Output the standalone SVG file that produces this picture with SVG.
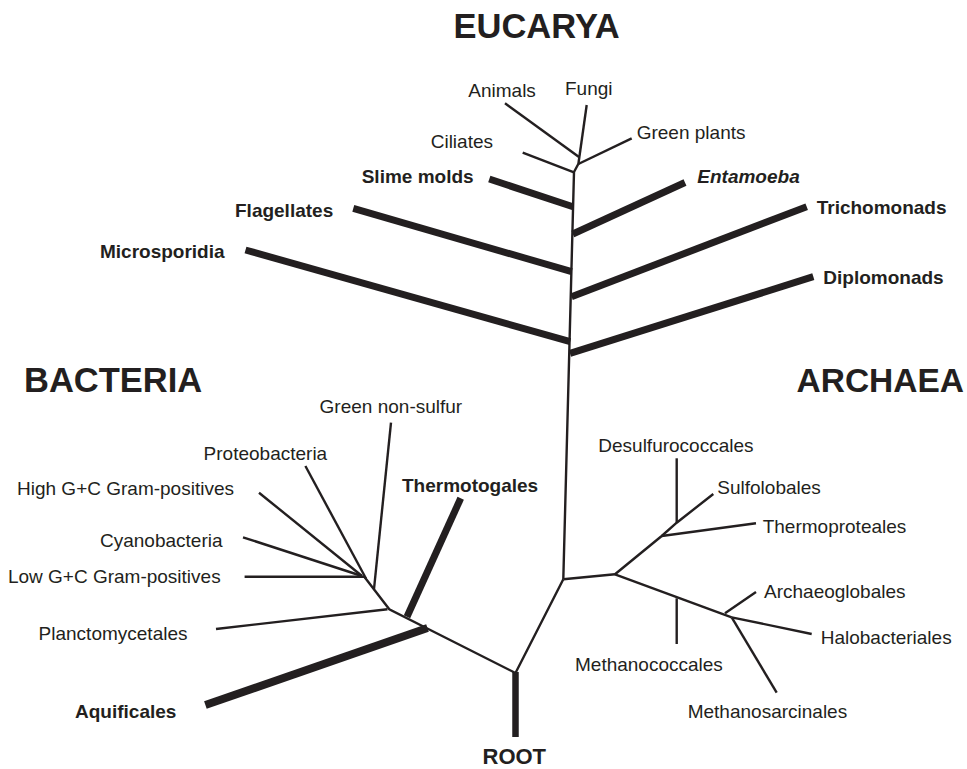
<svg xmlns="http://www.w3.org/2000/svg" width="967" height="769" viewBox="0 0 967 769">
<style>
text{font-family:"Liberation Sans",Arial,Helvetica,sans-serif;fill:#231f20;font-size:19px}
.b{font-weight:bold}
.i{font-style:italic}
.t{font-weight:bold;font-size:34.5px}
.r{font-weight:bold;font-size:22px}
.thin{stroke:#231f20;stroke-width:2.4;fill:none;stroke-linecap:butt;stroke-linejoin:miter}
.thick{stroke:#231f20;stroke-width:7;fill:none;stroke-linecap:butt}
</style>
<rect width="967" height="769" fill="#fff"/>
<g id="connectors">
  <polyline class="thin" points="563.3,579.3 574,172 578.3,164"/>
  <line class="thin" x1="586.7" y1="105" x2="578.3" y2="164.5"/>
  <line class="thin" x1="505" y1="103.3" x2="579" y2="157"/>
  <line class="thin" x1="631.7" y1="138.3" x2="578.3" y2="164"/>
  <line class="thin" x1="522.7" y1="152.7" x2="574" y2="172.3"/>
  <line class="thick" x1="489.3" y1="179" x2="573" y2="206.7"/>
  <line class="thick" x1="685" y1="182.5" x2="572.8" y2="234"/>
  <line class="thick" x1="353.3" y1="208.3" x2="571.7" y2="271.7"/>
  <line class="thick" x1="806.7" y1="206.7" x2="571.5" y2="296.7"/>
  <line class="thick" x1="245.5" y1="250" x2="570.2" y2="341.7"/>
  <line class="thick" x1="813.3" y1="276.7" x2="570" y2="353.3"/>
  <line class="thick" x1="515.5" y1="672" x2="515.5" y2="737" style="stroke-width:6.5"/>
  <polyline class="thin" points="563.3,579.3 515.5,673 426.8,628.3 389.3,609.3 364.3,576.7"/>
  <line class="thick" x1="205.4" y1="705" x2="427.5" y2="628" style="stroke-width:8"/>
  <line class="thick" x1="460.7" y1="498.3" x2="407" y2="616.7"/>
  <line class="thin" x1="216" y1="629" x2="387.5" y2="609.3"/>
  <line class="thin" x1="391" y1="422.7" x2="374" y2="589"/>
  <line class="thin" x1="305.4" y1="466" x2="366" y2="578.5"/>
  <line class="thin" x1="259" y1="492.7" x2="362" y2="576"/>
  <line class="thin" x1="243" y1="537.3" x2="362" y2="576"/>
  <line class="thin" x1="244.6" y1="576.7" x2="364.3" y2="576.7"/>
  <line class="thin" x1="563.3" y1="579.3" x2="615" y2="574.3"/>
  <polyline class="thin" points="615,574.3 661.7,536 676.7,522.7 713.3,494"/>
  <line class="thin" x1="676.7" y1="458.3" x2="676.7" y2="522.7"/>
  <line class="thin" x1="661.7" y1="536" x2="756" y2="523.3"/>
  <line class="thin" x1="615" y1="574.3" x2="731.7" y2="617.3"/>
  <line class="thin" x1="725" y1="613.3" x2="756" y2="592"/>
  <line class="thin" x1="676.7" y1="598.3" x2="676.7" y2="644"/>
  <line class="thin" x1="731.7" y1="617.3" x2="811.7" y2="634"/>
  <line class="thin" x1="731.7" y1="617.3" x2="776.7" y2="692.7"/>
</g>
<g id="title-eucarya"><text class="t" x="453.5" y="37.5">EUCARYA</text></g>
<g id="title-bacteria"><text class="t" x="24" y="391.7">BACTERIA</text></g>
<g id="title-archaea"><text class="t" x="964" y="391.7" text-anchor="end" style="font-size:33.5px">ARCHAEA</text></g>
<g id="node-animals"><text x="468.3" y="97.3">Animals</text></g>
<g id="node-fungi"><text x="565" y="95">Fungi</text></g>
<g id="node-green-plants"><text x="636.7" y="139.3">Green plants</text></g>
<g id="node-ciliates"><text x="430.7" y="148.3">Ciliates</text></g>
<g id="node-slime-molds"><text class="b" x="361.7" y="183.3">Slime molds</text></g>
<g id="node-entamoeba"><text class="b i" x="697.3" y="183.3">Entamoeba</text></g>
<g id="node-flagellates"><text class="b" x="235" y="216.7">Flagellates</text></g>
<g id="node-trichomonads"><text class="b" x="816.7" y="213.5">Trichomonads</text></g>
<g id="node-microsporidia"><text class="b" x="100" y="258.3">Microsporidia</text></g>
<g id="node-diplomonads"><text class="b" x="823.3" y="284">Diplomonads</text></g>
<g id="node-green-non-sulfur"><text x="319.6" y="413.3">Green non-sulfur</text></g>
<g id="node-proteobacteria"><text x="203.6" y="460">Proteobacteria</text></g>
<g id="node-high-gc"><text x="17" y="495">High G+C Gram-positives</text></g>
<g id="node-thermotogales"><text class="b" x="402" y="491.7">Thermotogales</text></g>
<g id="node-cyanobacteria"><text x="100" y="546.7">Cyanobacteria</text></g>
<g id="node-low-gc"><text x="7.9" y="583">Low G+C Gram-positives</text></g>
<g id="node-planctomycetales"><text x="38.6" y="640">Planctomycetales</text></g>
<g id="node-aquificales"><text class="b" x="75" y="718.3">Aquificales</text></g>
<g id="node-root"><text class="r" x="482.5" y="764">ROOT</text></g>
<g id="node-desulfurococcales"><text x="598.3" y="451.7">Desulfurococcales</text></g>
<g id="node-sulfolobales"><text x="717.3" y="494">Sulfolobales</text></g>
<g id="node-thermoproteales"><text x="762.7" y="533.3">Thermoproteales</text></g>
<g id="node-archaeoglobales"><text x="764" y="598.3">Archaeoglobales</text></g>
<g id="node-halobacteriales"><text x="820.7" y="644">Halobacteriales</text></g>
<g id="node-methanococcales"><text x="575" y="670.7">Methanococcales</text></g>
<g id="node-methanosarcinales"><text x="687.7" y="717.7">Methanosarcinales</text></g>
</svg>
